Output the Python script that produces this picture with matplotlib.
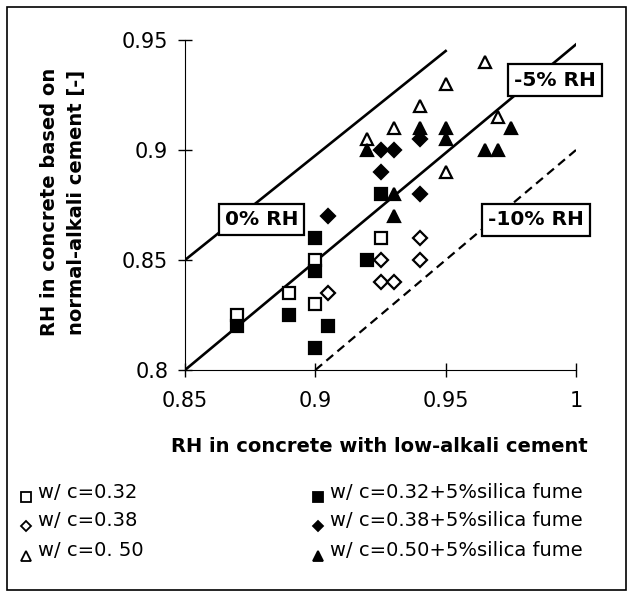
import numpy as np
import matplotlib
matplotlib.use('Agg')
import matplotlib.pyplot as plt
from matplotlib.patches import Rectangle
from matplotlib.lines import Line2D

plt.rcParams['font.family'] = ['DejaVu Sans']

# data (x = low-alkali, y = normal-alkali)
sq_open_x = [0.87, 0.89, 0.90, 0.90, 0.925]
sq_open_y = [0.825, 0.835, 0.83, 0.85, 0.86]
sq_fill_x = [0.87, 0.89, 0.90, 0.905, 0.90, 0.90, 0.92, 0.925]
sq_fill_y = [0.82, 0.825, 0.81, 0.82, 0.86, 0.845, 0.85, 0.88]
di_open_x = [0.905, 0.925, 0.925, 0.93, 0.94, 0.94]
di_open_y = [0.835, 0.85, 0.84, 0.84, 0.86, 0.85]
di_fill_x = [0.905, 0.925, 0.925, 0.93, 0.94, 0.94]
di_fill_y = [0.87, 0.89, 0.90, 0.90, 0.905, 0.88]
tr_open_x = [0.92, 0.93, 0.94, 0.95, 0.965, 0.97, 0.95]
tr_open_y = [0.905, 0.91, 0.92, 0.93, 0.94, 0.915, 0.89]
tr_fill_x = [0.92, 0.93, 0.93, 0.94, 0.95, 0.95, 0.965, 0.97, 0.975]
tr_fill_y = [0.90, 0.88, 0.87, 0.91, 0.91, 0.905, 0.90, 0.90, 0.91]

# reference lines
line0_x = [0.85, 0.95]
line0_y = [0.85, 0.945]
line5_x = [0.85, 1.0]
line5_y = [0.80, 0.948]
line10_x = [0.90, 1.0]
line10_y = [0.80, 0.90]

xticks = [0.85, 0.9, 0.95, 1.0]
xticklabels = ['0.85', '0.9', '0.95', '1']
yticks = [0.8, 0.85, 0.9, 0.95]
yticklabels = ['0.8', '0.85', '0.9', '0.95']

legend_labels = ['w/ c=0.32', 'w/ c=0.38', 'w/ c=0. 50',
                 'w/ c=0.32+5%silica fume', 'w/ c=0.38+5%silica fume',
                 'w/ c=0.50+5%silica fume']

fig = plt.figure(figsize=(6.32, 5.96), dpi=100)
ax = fig.add_axes([185/632, 1-370/596, 391/632, 330/596])

ax.plot(line0_x, line0_y, color='black', lw=1.9, zorder=2)
ax.plot(line5_x, line5_y, color='black', lw=1.9, zorder=2)
ax.plot(line10_x, line10_y, color='black', lw=1.6, ls=(0, (4, 2.5)), zorder=2)

ms = 8.5
mew = 1.6
ax.plot(sq_open_x, sq_open_y, 's', ms=ms, mfc='white', mec='black', mew=mew, ls='none', zorder=4)
ax.plot(sq_fill_x, sq_fill_y, 's', ms=ms, mfc='black', mec='black', mew=mew, ls='none', zorder=4)
ax.plot(di_open_x, di_open_y, 'D', ms=ms-1.5, mfc='white', mec='black', mew=mew, ls='none', zorder=4)
ax.plot(di_fill_x, di_fill_y, 'D', ms=ms-1.5, mfc='black', mec='black', mew=mew, ls='none', zorder=4)
ax.plot(tr_open_x, tr_open_y, '^', ms=ms, mfc='white', mec='black', mew=mew, ls='none', zorder=4)
ax.plot(tr_fill_x, tr_fill_y, '^', ms=ms, mfc='black', mec='black', mew=mew, ls='none', zorder=4)

box = dict(boxstyle='square,pad=0.3', fc='white', ec='black', lw=1.6)
ax.text(0.8794, 0.8685, '0% RH', fontsize=14.5, fontweight='bold', ha='center', va='center',
        bbox=box, zorder=3, clip_on=False)
ax.text(0.9918, 0.9318, '-5% RH', fontsize=14.5, fontweight='bold', ha='center', va='center',
        bbox=box, zorder=3, clip_on=False)
ax.text(0.9847, 0.8682, '-10% RH', fontsize=14.5, fontweight='bold', ha='center', va='center',
        bbox=box, zorder=3, clip_on=False)

ax.set_xlim(0.85, 1.0)
ax.set_ylim(0.8, 0.95)
ax.set_xticks(xticks)
ax.set_xticklabels(xticklabels, fontsize=15)
ax.set_yticks(yticks)
ax.set_yticklabels(yticklabels, fontsize=15)
ax.spines['top'].set_visible(False)
ax.spines['right'].set_visible(False)
ax.tick_params(direction='inout', length=10, width=1)
ax.tick_params(axis='x', pad=10)
ax.tick_params(axis='y', pad=7)

fig.text(379/632, 1-447/596, 'RH in concrete with low-alkali cement', fontsize=14,
         fontweight='bold', ha='center', va='center')
fig.text(50/632, 1-202/596, 'RH in concrete based on', fontsize=14, fontweight='bold',
         rotation=90, ha='center', va='center')
fig.text(77/632, 1-202/596, 'normal-alkali cement [-]', fontsize=14, fontweight='bold',
         rotation=90, ha='center', va='center')

# legend drawn as figure-level markers and text
leg_markers = ['s', 'D', '^', 's', 'D', '^']
leg_fill = ['white', 'white', 'white', 'black', 'black', 'black']
leg_x = [26, 26, 26, 318, 318, 318]
leg_y = [497, 526, 556, 497, 526, 556]
for m, fc, lx, ly, lab in zip(leg_markers, leg_fill, leg_x, leg_y, legend_labels):
    fig.add_artist(Line2D([lx/632], [1-ly/596], marker=m, ms=7 if m != 'D' else 5.5,
                          mfc=fc, mec='black', mew=1.3, ls='none'))
    fig.text((lx+12)/632, 1-(ly-5)/596, lab, fontsize=14, ha='left', va='center')

fig.add_artist(Rectangle((7/632, 6/596), 619/632, 583/596, transform=fig.transFigure,
                         fill=False, ec='black', lw=1.2))

fig.savefig('out.png', dpi=100)
